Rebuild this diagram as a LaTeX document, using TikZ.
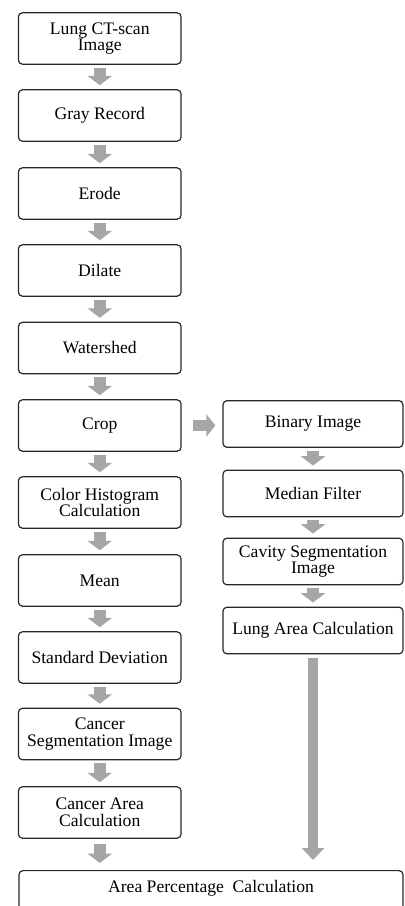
\documentclass[tikz,border=0pt]{standalone}
\usepackage{fontspec}
\setmainfont{Liberation Serif}
\usetikzlibrary{arrows.meta}
\definecolor{arrowgray}{RGB}{166,166,166}
\definecolor{boxline}{RGB}{40,40,40}

\tikzset{every picture/.style={line width=0.75pt}}
\tikzset{
  stepbox/.style={draw=boxline, line width=0.9pt, rounded corners=3pt, align=center, inner sep=0pt,
    minimum width=122pt, minimum height=38.5pt, font=\fontsize{13.2}{12.5}\selectfont},
  sidebox/.style={stepbox, minimum width=135pt, minimum height=35pt},
  blockarrow/.style={draw=arrowgray, line width=9pt, -{Triangle[width=18pt,length=7pt]},
    shorten <=2.25pt, shorten >=3pt},
}

\begin{document}
\begin{tikzpicture}[x=0.75pt,y=0.75pt,yscale=-1,xscale=1]
\useasboundingbox (0,0) rectangle (404,906);
\clip (0,0) rectangle (404,906);

%Rounded Rect - left column
\node [stepbox] (lung) at (99.75,38.5) {Lung CT-scan\\Image};
\node [stepbox] (gray) at (99.75,115.5) {Gray Record};
\node [stepbox] (erode) at (99.75,193.5) {Erode};
\node [stepbox] (dilate) at (99.75,270.5) {Dilate};
\node [stepbox] (watershed) at (99.75,348) {Watershed};
\node [stepbox] (crop) at (99.75,425.5) {Crop};
\node [stepbox] (hist) at (99.75,502.5) {Color Histogram\\Calculation};
\node [stepbox] (mean) at (99.75,580.5) {Mean};
\node [stepbox] (stdev) at (99.75,657.5) {Standard Deviation};
\node [stepbox] (cancerseg) at (99.75,734) {Cancer\\Segmentation Image};
\node [stepbox] (cancerarea) at (99.75,812.5) {Cancer Area\\Calculation};

%Rounded Rect - right column
\node [sidebox] (binary) at (313,424) {Binary Image};
\node [sidebox] (median) at (313,493.5) {Median Filter};
\node [sidebox] (cavity) at (313,561.5) {Cavity Segmentation\\Image};
\node [sidebox] (lungarea) at (313,630.5) {Lung Area Calculation};

%Rounded Rect - bottom
\node [stepbox, anchor=north, minimum width=288pt, minimum height=0pt, inner ysep=7.5pt,
  text height=9pt, text depth=30pt] (percent) at (211,870) {Area Percentage \ Calculation};

%Block Arrows
\draw [blockarrow] (lung) -- (gray);
\draw [blockarrow] (gray) -- (erode);
\draw [blockarrow] (erode) -- (dilate);
\draw [blockarrow] (dilate) -- (watershed);
\draw [blockarrow] (watershed) -- (crop);
\draw [blockarrow] (crop) -- (hist);
\draw [blockarrow] (hist) -- (mean);
\draw [blockarrow] (mean) -- (stdev);
\draw [blockarrow] (stdev) -- (cancerseg);
\draw [blockarrow] (cancerseg) -- (cancerarea);
\draw [blockarrow, shorten <=3.75pt, shorten >=5.25pt] (cancerarea.south) -- (cancerarea.south |- percent.north);

\draw [blockarrow, line width=8.25pt, -{Triangle[width=16.5pt,length=6.75pt]}, shorten <=8.25pt, shorten >=5.25pt] (crop.east) -- (crop.east -| binary.west);
\draw [blockarrow] (binary) -- (median);
\draw [blockarrow] (median) -- (cavity);
\draw [blockarrow] (cavity) -- (lungarea);
\draw [blockarrow, line width=7.5pt, -{Triangle[width=16.5pt,length=9pt]}, shorten <=3pt, shorten >=7.5pt] (lungarea.south) -- (lungarea.south |- percent.north);

\end{tikzpicture}
\end{document}
